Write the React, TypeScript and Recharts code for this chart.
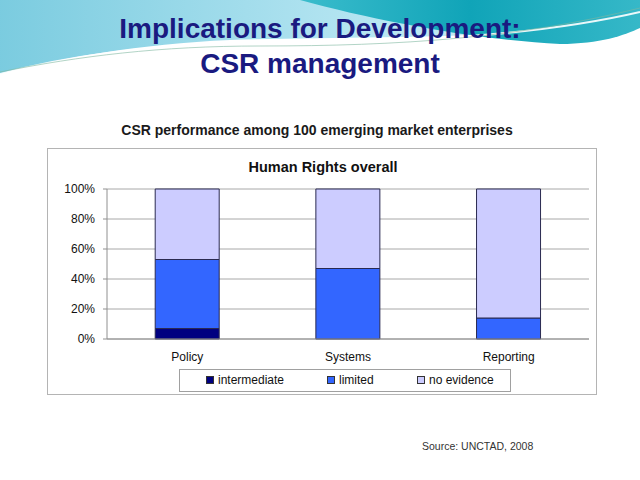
import { BarChart, Bar, XAxis, YAxis, CartesianGrid, Legend } from 'recharts';

const categories = ['Policy', 'Systems', 'Reporting'];
const intermediate = [7, 0, 0];
const limited = [46, 47, 14];
const noEvidence = [47, 53, 86];
const yTicks = [0, 20, 40, 60, 80, 100];

const seriesInfo = [
  { key: 'intermediate', label: 'intermediate', color: '#000080' },
  { key: 'limited', label: 'limited', color: '#3366FF' },
  { key: 'noEvidence', label: 'no evidence', color: '#CCCCFF' },
];

const data = categories.map((name, i) => ({
  name,
  intermediate: intermediate[i],
  limited: limited[i],
  noEvidence: noEvidence[i],
}));

const FONT = '"Liberation Sans", Arial, sans-serif';

// legend box like the excel one, items at fixed offsets
function LegendBox() {
  const offsets = [26, 147, 237];
  return (
    <div
      style={{
        position: 'relative',
        width: 332,
        height: 23,
        boxSizing: 'border-box',
        border: '1px solid #a0a0a0',
        background: '#fff',
        fontFamily: FONT,
        fontSize: 12,
        color: '#111',
      }}
    >
      {seriesInfo.map((s, i) => (
        <div key={s.key} style={{ position: 'absolute', left: offsets[i], top: 3, whiteSpace: 'nowrap', lineHeight: '15px' }}>
          <span
            style={{
              display: 'inline-block',
              width: 6,
              height: 6,
              background: s.color,
              border: '1px solid #333',
              marginRight: 4,
              verticalAlign: 'middle',
              position: 'relative',
              top: -1,
            }}
          />
          {s.label}
        </div>
      ))}
    </div>
  );
}

function Backdrop() {
  return (
    <svg width={640} height={480} style={{ position: 'absolute', left: 0, top: 0 }}>
      <defs>
        <linearGradient id="lightWave" x1="0" y1="0" x2="1" y2="0">
          <stop offset="0" stopColor="#6cc6dc" />
          <stop offset="0.5" stopColor="#a6dfee" />
          <stop offset="1" stopColor="#d8f2f8" />
        </linearGradient>
        <linearGradient id="tealWave" x1="0" y1="0" x2="1" y2="0">
          <stop offset="0" stopColor="#3bbccc" />
          <stop offset="0.5" stopColor="#10a4b8" />
          <stop offset="1" stopColor="#36b8c8" />
        </linearGradient>
      </defs>
      <rect x={0} y={0} width={640} height={480} fill="#ffffff" />
      <path d="M0,0 H640 V20 C520,40 360,36 230,40 C140,44 60,58 0,74 Z" fill="url(#lightWave)" opacity={0.9} />
      <path d="M300,0 C380,22 480,40 560,44 C600,44 625,35 640,28 V0 Z" fill="url(#tealWave)" />
      <path d="M0,74 C60,58 140,46 230,44 C380,42 520,40 640,12" fill="none" stroke="#ffffff" strokeWidth={2} opacity={0.9} />
      <path d="M0,72 C80,56 160,46 260,46 C400,46 520,38 640,8" fill="none" stroke="#7fb8a0" strokeWidth={1} opacity={0.6} />
    </svg>
  );
}

export default function App() {
  return (
    <div style={{ position: 'absolute', left: 0, top: 0, width: 640, height: 480, overflow: 'hidden', fontFamily: FONT }}>
      <Backdrop />
      <div
        style={{
          position: 'absolute',
          left: 0,
          top: 11,
          width: 640,
          textAlign: 'center',
          fontSize: 28,
          fontWeight: 'bold',
          lineHeight: '35px',
          color: '#1a1a80',
        }}
      >
        Implications for Development:
        <br />
        CSR management
      </div>
      <div
        style={{
          position: 'absolute',
          left: 0,
          top: 122,
          width: 634,
          textAlign: 'center',
          fontSize: 14,
          fontWeight: 'bold',
          color: '#1a1a1a',
        }}
      >
        CSR performance among 100 emerging market enterprises
      </div>
      <div
        style={{
          position: 'absolute',
          left: 47,
          top: 148,
          width: 550,
          height: 247,
          boxSizing: 'border-box',
          border: '1px solid #b4b4b4',
          background: '#fff',
        }}
      >
        <div
          style={{
            position: 'absolute',
            left: 0,
            top: 10,
            width: 550,
            textAlign: 'center',
            fontSize: 14.5,
            fontWeight: 'bold',
            color: '#111',
          }}
        >
          Human Rights overall
        </div>
        <div style={{ position: 'absolute', left: -1, top: -1 }}>
          <BarChart
            width={550}
            height={247}
            data={data}
            margin={{ top: 41, right: 8, left: 0, bottom: 3 }}
            barCategoryGap="30%"
          >
            <CartesianGrid vertical={false} stroke="#a8a8a8" />
            <XAxis
              dataKey="name"
              height={30}
              tickLine={false}
              tickSize={6}
              tickMargin={7}
              stroke="#909090"
              tick={{ fill: '#111', fontSize: 12, fontFamily: FONT }}
            />
            <YAxis
              width={60}
              domain={[0, 100]}
              ticks={yTicks}
              tickFormatter={(v: number) => `${v}%`}
              tickSize={4}
              tickMargin={8}
              stroke="#909090"
              tick={{ fill: '#111', fontSize: 12, fontFamily: FONT }}
            />
            <Legend
              verticalAlign="bottom"
              content={() => <LegendBox />}
              wrapperStyle={{ left: 132, width: 332 }}
            />
            {seriesInfo.map((s) => (
              <Bar
                key={s.key}
                dataKey={s.key}
                name={s.label}
                stackId="a"
                fill={s.color}
                stroke="#2a2a50"
                strokeWidth={1}
                isAnimationActive={false}
              />
            ))}
          </BarChart>
        </div>
      </div>
      <div
        style={{
          position: 'absolute',
          left: 422,
          top: 440,
          fontSize: 10.5,
          color: '#333',
          whiteSpace: 'nowrap',
        }}
      >
        Source: UNCTAD, 2008
      </div>
    </div>
  );
}
